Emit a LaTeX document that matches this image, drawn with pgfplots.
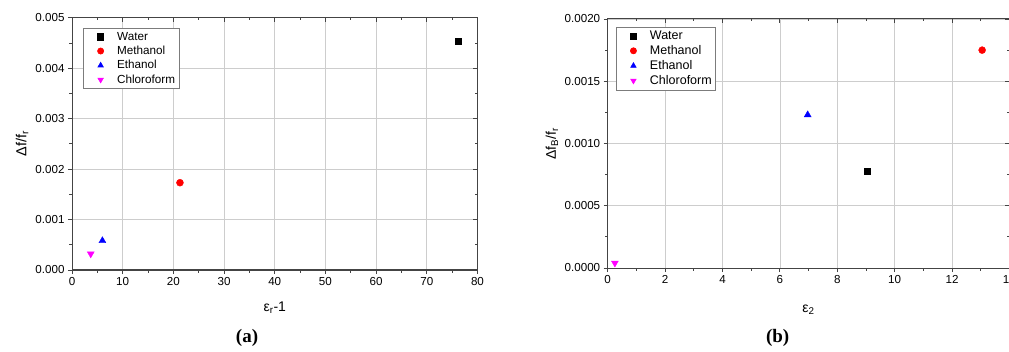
\documentclass[border=0pt]{standalone}
\usepackage{pgfplots}
\pgfplotsset{compat=1.18}
\usepackage{fontspec}
\setmainfont{Liberation Sans}
\newfontfamily\serifb{Liberation Serif}
\definecolor{axcol}{RGB}{68,68,68}
\definecolor{gridcol}{RGB}{205,205,205}
\definecolor{magentaX}{RGB}{255,0,255}
\pgfplotsset{
  basestyle/.style={
    scale only axis,
    anchor=south west,
    axis line style={draw=axcol, line width=1pt},
    every tick/.style={draw=axcol, line width=0.8pt},
    major tick length=4pt, minor tick length=2.5pt,
    tick align=outside,
    xtick pos=left, ytick pos=left,
    grid=major,
    major grid style={draw=gridcol, line width=0.7pt},
    tick label style={font=\fontsize{11.6}{13}\selectfont},
    /pgf/number format/assume math mode=true,
    scaled y ticks=false, scaled x ticks=false,
    legend cell align=left,
    legend image code/.code={%
      \path[draw=none, fill=none] (-15pt,-4pt) rectangle (14.5pt,4pt);
      \draw[##1, mark size=3.1pt] plot coordinates {(0pt,0pt)};},
    legend style={draw=axcol!70, line width=0.6pt,
      inner xsep=2pt, inner ysep=2pt},
  },
  mirrorstyle/.style={
    scale only axis,
    anchor=south west,
    axis line style={draw=axcol, line width=1pt},
    every tick/.style={draw=axcol, line width=0.8pt},
    major tick length=4pt, minor tick length=2.5pt,
    tick align=inside,
    scaled y ticks=false, scaled x ticks=false,
    xtick pos=right, ytick pos=right,
    xticklabels={}, yticklabels={},
  },
}
\begin{document}
\begin{tikzpicture}
\useasboundingbox (0pt,0pt) rectangle (1009pt,351pt);
% ---------------- (a) ----------------
\begin{axis}[basestyle,
  at={(72pt,81pt)}, width=405.5pt, height=252.3pt,
  xmin=0, xmax=80, ymin=0, ymax=0.005,
  xtick={0,10,...,80}, minor xtick={5,15,...,75},
  ytick={0,0.001,...,0.005}, minor ytick={0.0005,0.0015,...,0.0045},
  yticklabel style={/pgf/number format/.cd, fixed, fixed zerofill, precision=3},
  xlabel={ε\textsubscript{r}-1},
  ylabel={Δf/f\textsubscript{r}},
  every axis x label/.style={at={(axis description cs:0.5,-0.151)}, anchor=center, font=\fontsize{14}{16}\selectfont},
  every axis y label/.style={at={(axis description cs:-0.123,0.5)}, anchor=center, rotate=90, font=\fontsize{14.5}{16}\selectfont},
  legend style={at={(rel axis cs:0.028,0.96)}, anchor=north west, row sep=0.4pt,
    font=\fontsize{11.7}{14.8}\selectfont},
]
\addplot[only marks, mark=square*, mark size=3pt, color=black] coordinates {(76.2,0.00453)};
\addlegendentry{Water}
\addplot[only marks, mark=*, mark size=3.5pt, color=red] coordinates {(21.3,0.00173)};
\addlegendentry{Methanol}
\addplot[only marks, mark=triangle*, mark size=4pt, color=blue] coordinates {(6.0,0.00058)};
\addlegendentry{Ethanol}
\addplot[only marks, mark=triangle*, mark options={rotate=180}, mark size=4pt, color=magentaX] coordinates {(3.7,0.00032)};
\addlegendentry{Chloroform}
\end{axis}
\begin{axis}[mirrorstyle,
  at={(72pt,81pt)}, width=405.5pt, height=252.3pt,
  xmin=0, xmax=80, ymin=0, ymax=0.005,
  xtick={0,10,...,80}, minor xtick={5,15,...,75},
  ytick={0,0.001,...,0.005}, minor ytick={0.0005,0.0015,...,0.0045},
]
\addplot[draw=none] coordinates {(0,0)};
\end{axis}
\node[font=\serifb\bfseries\fontsize{19}{22}\selectfont] at (247pt,13pt) {(a)};
% ---------------- (b) ----------------
\begin{axis}[basestyle,
  at={(607.7pt,83pt)}, width=401.7pt, height=249pt,
  xmin=0, xmax=14, ymin=0, ymax=0.002,
  xtick={0,2,...,14}, minor xtick={1,3,...,13},
  ytick={0,0.0005,0.001,0.0015,0.002}, minor ytick={0.00025,0.00075,0.00125,0.00175},
  yticklabel style={/pgf/number format/.cd, fixed, fixed zerofill, precision=4},
  xlabel={ε\textsubscript{2}},
  ylabel={Δf\textsubscript{B}/f\textsubscript{r}},
  every axis x label/.style={at={(axis description cs:0.5,-0.169)}, anchor=center, font=\fontsize{14}{16}\selectfont},
  every axis y label/.style={at={(axis description cs:-0.139,0.5)}, anchor=center, rotate=90, font=\fontsize{14}{16}\selectfont},
  legend style={at={(rel axis cs:0.021,0.969)}, anchor=north west, row sep=0.4pt,
    font=\fontsize{12.5}{16}\selectfont},
]
\addplot[only marks, mark=square*, mark size=3pt, color=black] coordinates {(9.03,0.00078)};
\addlegendentry{Water}
\addplot[only marks, mark=*, mark size=3.5pt, color=red] coordinates {(13.05,0.00175)};
\addlegendentry{Methanol}
\addplot[only marks, mark=triangle*, mark size=4pt, color=blue] coordinates {(6.97,0.00123)};
\addlegendentry{Ethanol}
\addplot[only marks, mark=triangle*, mark options={rotate=180}, mark size=4pt, color=magentaX] coordinates {(0.25,0.00004)};
\addlegendentry{Chloroform}
\end{axis}
\begin{axis}[mirrorstyle,
  at={(607.7pt,83pt)}, width=401.7pt, height=249pt,
  xmin=0, xmax=14, ymin=0, ymax=0.002,
  xtick={0,2,...,14}, minor xtick={1,3,...,13},
  ytick={0,0.0005,0.001,0.0015,0.002}, minor ytick={0.00025,0.00075,0.00125,0.00175},
]
\addplot[draw=none] coordinates {(0,0)};
\end{axis}
\node[font=\serifb\bfseries\fontsize{19}{22}\selectfont] at (777.7pt,13pt) {(b)};
\end{tikzpicture}
\end{document}
